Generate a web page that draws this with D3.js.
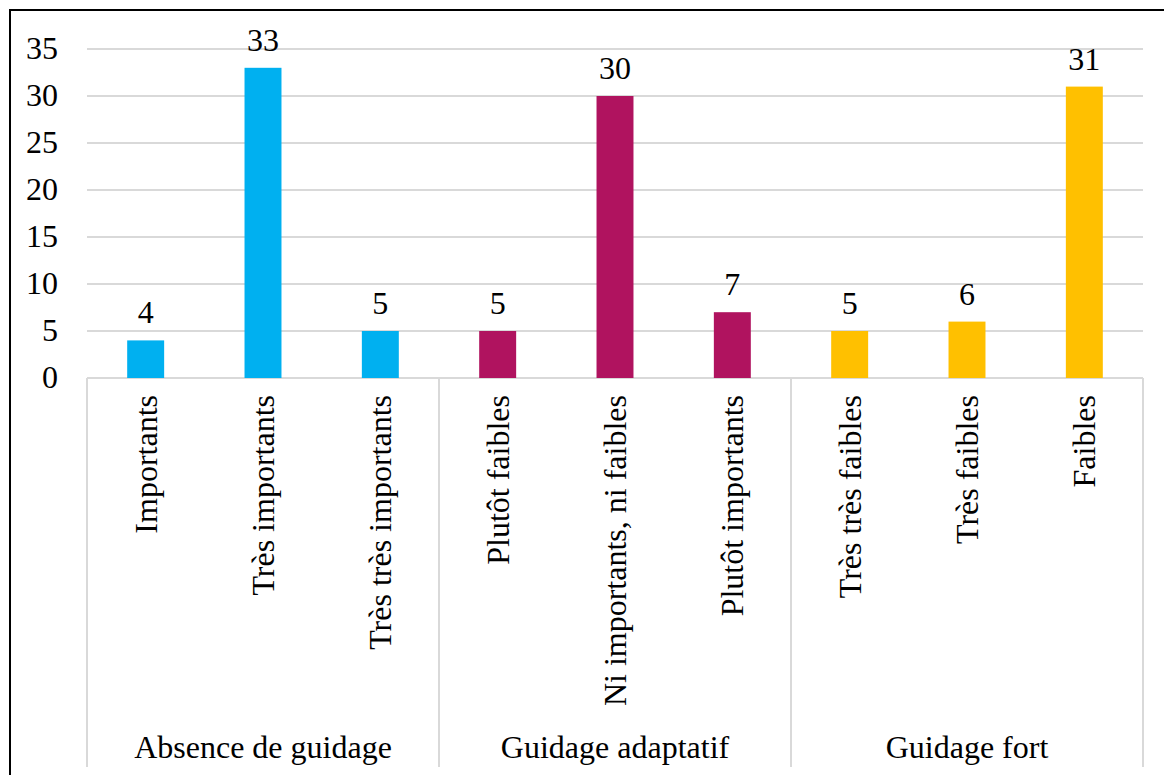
<!DOCTYPE html>
<html>
<head>
<meta charset="utf-8">
<script src="https://cdn.jsdelivr.net/npm/d3@7"></script>
<style>
body { margin: 0; background: #fff; }
</style>
</head>
<body>
<div class="content"></div>
<script>
var groups = ["Absence de guidage", "Guidage adaptatif", "Guidage fort"];
var categories = ["Importants", "Très importants", "Très très importants",
  "Plutôt faibles", "Ni importants, ni faibles", "Plutôt importants",
  "Très très faibles", "Très faibles", "Faibles"];
var values = [4, 33, 5, 5, 30, 7, 5, 6, 31];
var groupOf = [0, 0, 0, 1, 1, 1, 2, 2, 2];
var colors = ["#00B0F0", "#B0135F", "#FFC000"];
var yTicks = [0, 5, 10, 15, 20, 25, 30, 35];

var width = 1164, height = 775;
var plotLeft = 87, plotRight = 1143, plotTop = 49, plotBottom = 378, axisEnd = 767;
var fs = 32;

var svg = d3.select(".content").append("svg").attr("width", width).attr("height", height)
  .attr("font-family", "'Liberation Serif', 'Times New Roman', Times, serif")
  .attr("font-size", fs);

// outer border (open at right and bottom, as in the picture)
svg.append("path").attr("d", "M10," + height + "V10H" + width)
  .attr("stroke", "#000").attr("stroke-width", 2).attr("fill", "none");

var x = d3.scaleBand().domain(d3.range(categories.length)).range([plotLeft, plotRight]).paddingInner(0.685).paddingOuter(0.3425);
var y = d3.scaleLinear().domain([0, 35]).range([plotBottom, plotTop]);

// gridlines
svg.append("g").selectAll("line").data(yTicks).join("line")
  .attr("x1", plotLeft).attr("x2", plotRight)
  .attr("y1", function(d){ return Math.round(y(d)); })
  .attr("y2", function(d){ return Math.round(y(d)); })
  .attr("stroke", "#d9d9d9").attr("stroke-width", 2);

// y tick labels
svg.append("g").selectAll("text").data(yTicks).join("text")
  .attr("x", 58).attr("y", function(d){ return y(d) + 10; })
  .attr("text-anchor", "end")
  .text(function(d){ return d; });

// bars
svg.append("g").selectAll("rect").data(values).join("rect")
  .attr("x", function(d, i){ return x(i); })
  .attr("y", function(d){ return y(d); })
  .attr("width", x.bandwidth())
  .attr("height", function(d){ return y(0) - y(d); })
  .attr("fill", function(d, i){ return colors[groupOf[i]]; });

// value labels
svg.append("g").selectAll("text").data(values).join("text")
  .attr("x", function(d, i){ return x(i) + x.bandwidth() / 2; })
  .attr("y", function(d){ return y(d) - 17; })
  .attr("text-anchor", "middle")
  .text(function(d){ return d; });

// group separators
var step = x.step();
var seps = d3.range(groups.length + 1).map(function(g){ return plotLeft + g * 3 * step; });
svg.append("g").selectAll("line").data(seps).join("line")
  .attr("x1", function(d){ return Math.round(d); })
  .attr("x2", function(d){ return Math.round(d); })
  .attr("y1", plotBottom).attr("y2", axisEnd)
  .attr("stroke", "#d9d9d9").attr("stroke-width", 2);

// category labels (rotated)
svg.append("g").selectAll("text").data(categories).join("text")
  .attr("transform", function(d, i){
    return "translate(" + (x(i) + x.bandwidth() / 2 + 11) + "," + (plotBottom + 17) + ") rotate(-90)";
  })
  .attr("text-anchor", "end")
  .text(function(d){ return d; });

// group labels
svg.append("g").selectAll("text").data(groups).join("text")
  .attr("x", function(d, g){ return plotLeft + (g * 3 + 1.5) * step; })
  .attr("y", 758)
  .attr("text-anchor", "middle")
  .text(function(d){ return d; });
</script>
</body>
</html>
